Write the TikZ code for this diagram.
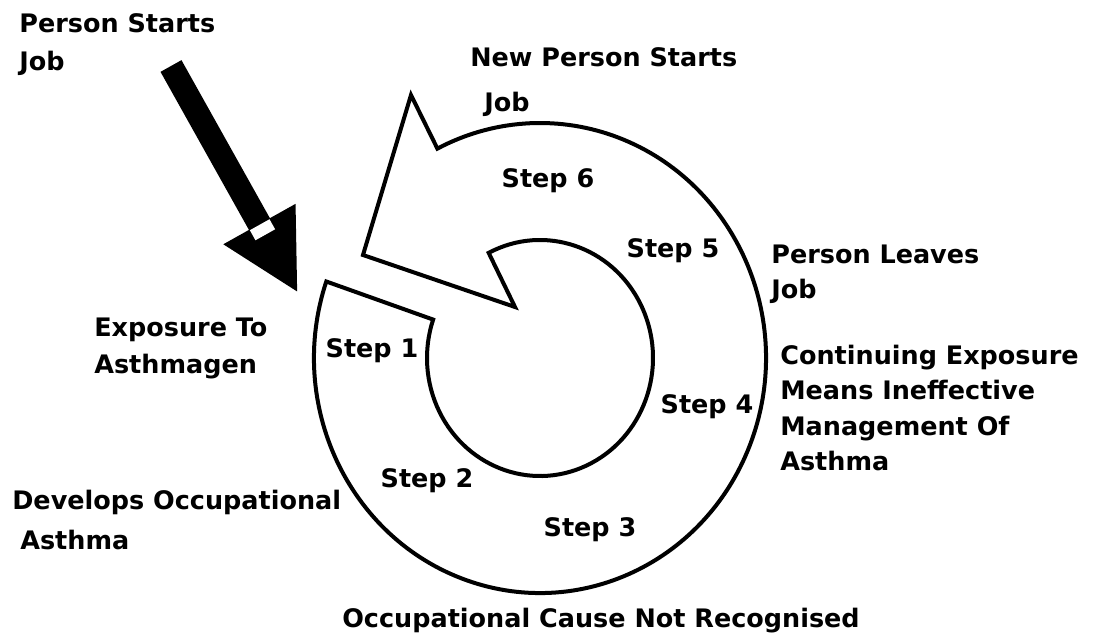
\documentclass[tikz,border=0pt]{standalone}
\usepackage{fontspec}
\setmainfont{DejaVu Sans}
\usetikzlibrary{arrows.meta}
\begin{document}
\begin{tikzpicture}[lbl/.style={font=\bfseries\fontsize{14.5}{20}\selectfont,align=left,anchor=north west},
    steplbl/.style={font=\bfseries\fontsize{14.5}{20}\selectfont,anchor=base},
    ring/.style={draw,line width=0.08cm,fill=white},
    bigarrow/.style={line width=0.48cm,-{Triangle[length=1.58cm,width=1.53cm]}},
    inner sep=0pt]
    \useasboundingbox (-10.8,-5.62) rectangle (11.3,7.16);

    %cycle ring, anticlockwise from step 1 round to the head
    \draw[ring] (161:4.52 and 4.70) arc[start angle=161,end angle=477,x radius=4.52,y radius=4.70]
        -- (-2.58,5.26) -- (-3.54,2.06) -- (-0.50,1.02) -- (477:2.26 and 2.36)
        arc[start angle=477,end angle=161,x radius=2.26,y radius=2.36] -- cycle;

    %steps
    \node (S1) at (-3.36,0.02)[steplbl]{Step 1};
    \node (S2) at (-2.26,-2.58)[steplbl]{Step 2};
    \node (S3) at (1.00,-3.56)[steplbl]{Step 3};
    \node (S4) at (3.34,-1.10)[steplbl]{Step 4};
    \node (S5) at (2.66,2.02)[steplbl]{Step 5};
    \node (S6) at (0.16,3.42)[steplbl]{Step 6};

    %labels round the ring
    \node (L0) at (-10.42,6.90)[lbl,font=\bfseries\fontsize{14.5}{21.6}\selectfont]{Person Starts\\Job};
    \node (L1) at (-8.92,0.80)[lbl,font=\bfseries\fontsize{14.5}{21}\selectfont]{Exposure To\\Asthmagen};
    \node (L2) at (-10.56,-2.64)[lbl,font=\bfseries\fontsize{14.5}{22.8}\selectfont]{Develops Occupational\\\hspace*{0.16cm}Asthma};
    \node (L3) at (1.22,-5.00)[lbl,anchor=north]{Occupational Cause Not Recognised};
    \node (L4) at (4.80,0.26)[lbl]{Continuing Exposure\\Means Ineffective\\Management Of\\Asthma};
    \node (L5) at (4.62,2.26)[lbl,font=\bfseries\fontsize{14.5}{19.4}\selectfont]{Person Leaves\\Job};
    \node (L6) at (-1.40,6.22)[lbl,font=\bfseries\fontsize{14.5}{26}\selectfont]{New Person Starts\\\hspace*{0.28cm}Job};

    %way in
    \coordinate (in1) at (-7.38,5.84);
    \coordinate (in2) at (-4.84,1.30);
    \draw[bigarrow] (in1) -- (in2);
    \node (gap) at (-5.55,2.565)[fill=white,minimum width=0.45cm,minimum height=0.23cm,rotate=29.2]{};
\end{tikzpicture}
\end{document}
